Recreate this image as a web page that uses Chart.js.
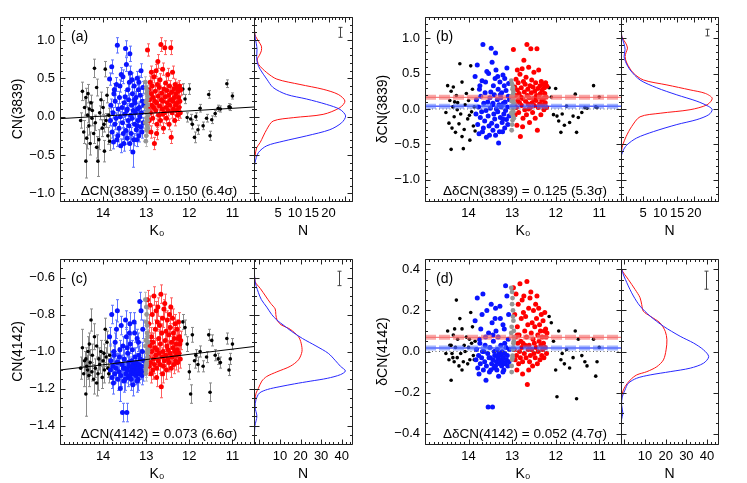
<!DOCTYPE html>
<html><head><meta charset="utf-8">
<script src="https://cdn.jsdelivr.net/npm/chart.js@4.4.1/dist/chart.umd.min.js"></script>
<style>
body{margin:0;background:#fff}
#wrap{position:relative;width:747px;height:483px}
#wrap canvas{position:absolute;left:0;top:0}
</style></head>
<body><div id="wrap">
<canvas id="sa" width="747" height="483"></canvas>
<canvas id="ha" width="747" height="483"></canvas>
<canvas id="sb" width="747" height="483"></canvas>
<canvas id="hb" width="747" height="483"></canvas>
<canvas id="sc" width="747" height="483"></canvas>
<canvas id="hc" width="747" height="483"></canvas>
<canvas id="sd" width="747" height="483"></canvas>
<canvas id="hd" width="747" height="483"></canvas>
</div>
<script>
// ---- star data: [K0, CN3839, err3839, dCN3839, CN4142, err4142, dCN4142]
const blackStars = [
[14.52,-0.05,0.10,-0.05,-1.09,0.06,-0.01],[14.48,0.33,0.12,0.33,-0.98,0.10,0.10],[14.45,-0.20,0.15,-0.20,-1.12,0.07,-0.04],
[14.43,0.12,0.10,0.12,-1.05,0.05,0.03],[14.40,-0.58,0.22,-0.57,-1.23,0.12,-0.14],[14.38,-0.28,0.14,-0.27,-1.08,0.06,-0.01],
[14.36,0.02,0.10,0.03,-1.10,0.05,-0.03],[14.35,0.30,0.12,0.31,-1.00,0.08,0.08],[14.33,-0.12,0.12,-0.11,-1.13,0.06,-0.05],
[14.30,-0.35,0.15,-0.33,-1.06,0.07,0.02],[14.28,0.18,0.10,0.19,-0.83,0.06,0.25],[14.26,-0.02,0.10,-0.01,-1.11,0.05,-0.03],
[14.25,0.08,0.11,0.09,-1.02,0.06,0.06],[14.22,-0.22,0.13,-0.21,-1.15,0.08,-0.07],[14.20,0.63,0.12,0.64,-0.92,0.07,0.16],
[14.18,-0.08,0.10,-0.07,-1.09,0.05,-0.01],[14.15,0.38,0.11,0.38,-0.97,0.06,0.11],[14.12,-0.58,0.20,-0.56,-1.12,0.09,-0.05],
[14.10,-0.30,0.13,-0.29,-1.04,0.06,0.03],[14.08,0.05,0.09,0.06,-1.07,0.05,0.00],[14.05,0.22,0.10,0.22,-1.00,0.06,0.07],
[14.02,-0.15,0.11,-0.14,-1.14,0.06,-0.06],[14.00,0.12,0.09,0.12,-1.05,0.05,0.02],[13.97,-0.45,0.14,-0.44,-1.10,0.07,-0.04],
[13.95,0.62,0.10,0.61,-0.88,0.06,0.19],[13.93,-0.05,0.09,-0.04,-1.03,0.05,0.04],[13.91,0.28,0.10,0.28,-0.95,0.06,0.12],
[13.89,-0.25,0.11,-0.24,-1.09,0.05,-0.02],[13.87,0.02,0.09,0.03,-1.12,0.05,-0.04],[13.85,-0.32,0.12,-0.31,-1.02,0.06,0.05],
[14.40,0.25,0.12,0.25,-1.04,0.06,0.03],[14.15,-0.40,0.14,-0.39,-1.17,0.07,-0.09],[14.32,0.10,0.10,0.10,-0.96,0.06,0.11],
[13.98,-0.10,0.10,-0.09,-1.01,0.05,0.06],
[12.15,0.36,0.07,0.30,-0.84,0.04,0.17],[12.10,0.23,0.06,0.17,-0.87,0.04,0.14],[12.05,-0.01,0.06,-0.08,-0.96,0.04,0.05],
[12.00,0.36,0.07,0.29,-1.11,0.04,-0.09],[11.97,-0.03,0.06,-0.10,-1.23,0.05,-0.22],[11.93,-0.10,0.06,-0.17,-0.91,0.04,0.10],
[11.88,-0.27,0.07,-0.33,-1.05,0.04,-0.04],[11.85,0.00,0.05,-0.07,-1.02,0.03,-0.01],[11.80,-0.17,0.06,-0.23,-1.07,0.04,-0.06],
[11.75,0.11,0.05,0.04,-1.00,0.03,0.01],[11.68,-0.12,0.05,-0.19,-1.08,0.03,-0.08],[11.55,0.29,0.05,0.21,-0.91,0.03,0.10],
[11.52,-0.25,0.06,-0.33,-1.22,0.05,-0.23],[11.48,-0.04,0.05,-0.12,-0.94,0.03,0.06],[11.40,0.04,0.04,-0.05,-1.02,0.03,-0.02],
[11.33,0.11,0.04,0.02,-1.04,0.03,-0.05],[11.28,0.10,0.04,0.01,-1.06,0.03,-0.07],[11.13,0.43,0.05,0.33,-0.93,0.03,0.06],
[11.08,0.13,0.04,0.03,-1.10,0.03,-0.12],[11.05,0.12,0.04,0.02,-1.04,0.03,-0.05],[11.00,0.27,0.04,0.17,-0.96,0.03,0.02],
[11.60,-0.02,0.05,-0.10,-1.03,0.03,-0.03]
];
const blueStars = [
[13.85,0.49,0.08,0.46,-0.92,0.05,0.15],[13.83,-0.05,0.07,-0.07,-1.10,0.05,-0.04],[13.82,0.15,0.08,0.13,-1.05,0.05,0.01],
[13.80,0.65,0.09,0.62,-0.80,0.05,0.26],[13.79,-0.20,0.08,-0.22,-1.14,0.06,-0.08],[13.77,0.05,0.07,0.03,-1.08,0.05,-0.02],
[13.76,-0.33,0.09,-0.35,-1.17,0.06,-0.11],[13.75,0.30,0.08,0.28,-1.00,0.05,0.06],[13.73,-0.10,0.07,-0.12,-1.12,0.05,-0.06],
[13.72,0.20,0.08,0.18,-0.95,0.05,0.11],[13.70,-0.02,0.07,-0.04,-1.09,0.05,-0.03],[13.69,0.42,0.09,0.40,-0.88,0.05,0.18],
[13.67,0.93,0.10,0.91,-0.78,0.06,0.28],[13.66,-0.25,0.08,-0.27,-1.15,0.06,-0.09],[13.65,0.10,0.07,0.08,-1.06,0.05,0.00],
[13.63,-0.15,0.08,-0.17,-1.11,0.05,-0.05],[13.62,0.25,0.08,0.23,-1.03,0.05,0.03],[13.60,0.00,0.07,-0.02,-1.20,0.07,-0.14],
[13.59,-0.38,0.09,-0.40,-1.13,0.06,-0.07],[13.58,0.55,0.09,0.53,-0.86,0.05,0.20],[13.56,0.12,0.07,0.10,-1.07,0.05,-0.01],
[13.55,-0.08,0.07,-0.10,-1.33,0.05,-0.27],[13.54,0.52,0.09,0.50,-0.97,0.05,0.09],[13.52,-0.35,0.10,-0.37,-1.16,0.06,-0.10],
[13.51,0.18,0.08,0.16,-1.04,0.05,0.02],[13.50,0.03,0.07,0.01,-1.09,0.05,-0.03],[13.48,0.89,0.10,0.86,-0.83,0.05,0.23],
[13.47,-0.18,0.08,-0.20,-1.12,0.05,-0.06],[13.46,0.68,0.09,0.66,-0.92,0.05,0.14],[13.45,0.08,0.07,0.06,-1.33,0.05,-0.27],
[13.44,-0.28,0.08,-0.30,-1.10,0.05,-0.04],[13.43,0.35,0.08,0.33,-1.01,0.05,0.05],[13.42,-0.05,0.07,-0.07,-1.14,0.05,-0.08],
[13.41,0.22,0.08,0.20,-1.06,0.05,0.00],[13.40,-0.12,0.07,-0.14,-1.08,0.05,-0.02],[13.39,0.45,0.09,0.43,-0.90,0.05,0.16],
[13.38,0.82,0.10,0.79,-0.85,0.06,0.21],[13.37,0.57,0.09,0.55,-0.96,0.05,0.10],[13.36,0.02,0.07,0.00,-1.11,0.05,-0.05],
[13.35,-0.22,0.08,-0.24,-1.15,0.06,-0.09],[13.34,0.15,0.07,0.13,-1.05,0.05,0.01],[13.33,-0.02,0.07,-0.04,-1.09,0.05,-0.03],
[13.32,0.30,0.08,0.28,-0.99,0.05,0.07],[13.31,-0.46,0.20,-0.48,-1.18,0.06,-0.12],[13.30,0.08,0.07,0.06,-1.07,0.05,-0.01],
[13.29,-0.30,0.08,-0.32,-1.12,0.05,-0.06],[13.28,0.40,0.08,0.38,-0.84,0.05,0.22],[13.27,-0.10,0.07,-0.12,-1.10,0.05,-0.04],
[13.26,0.18,0.08,0.16,-1.03,0.05,0.03],[13.25,0.05,0.07,0.03,-1.08,0.05,-0.02],[13.24,0.25,0.08,0.23,-1.13,0.05,-0.07],
[13.23,-0.17,0.07,-0.19,-1.06,0.05,0.00],[13.22,-0.30,0.09,-0.32,-1.11,0.05,-0.05],[13.21,0.50,0.09,0.48,-0.93,0.05,0.13],
[13.20,0.10,0.07,0.08,-1.09,0.05,-0.03],[13.19,-0.05,0.07,-0.07,-1.15,0.06,-0.09],[13.18,0.35,0.08,0.33,-0.95,0.05,0.11],
[13.17,-0.25,0.08,-0.27,-1.07,0.05,-0.01],[13.16,0.12,0.07,0.10,-1.12,0.05,-0.06],[13.15,0.00,0.07,-0.02,-0.73,0.05,0.32],
[13.14,0.28,0.08,0.26,-1.04,0.05,0.02],[13.13,-0.13,0.07,-0.15,-1.10,0.05,-0.04],[13.12,0.60,0.09,0.58,-0.78,0.05,0.27],
[13.11,0.05,0.07,0.03,-1.08,0.05,-0.02],[13.10,-0.20,0.08,-0.22,-1.13,0.05,-0.07],[13.09,0.20,0.08,0.18,-1.00,0.05,0.06],
[13.08,0.38,0.08,0.36,-0.88,0.05,0.18],[13.07,-0.08,0.07,-0.10,-1.11,0.05,-0.05],[13.06,0.15,0.07,0.13,-1.05,0.05,0.01],
[13.74,0.35,0.08,0.33,-1.02,0.05,0.04],[13.68,-0.30,0.09,-0.32,-1.06,0.05,0.00],[13.61,0.40,0.08,0.38,-0.99,0.05,0.07],
[13.53,-0.22,0.08,-0.24,-1.09,0.05,-0.03],[13.49,0.26,0.08,0.24,-1.15,0.06,-0.09],[13.44,0.10,0.07,0.08,-0.98,0.05,0.08],
[13.38,-0.35,0.09,-0.37,-1.13,0.05,-0.07],[13.33,0.48,0.09,0.46,-1.08,0.05,-0.02],[13.27,0.22,0.08,0.20,-0.90,0.05,0.16],
[13.21,-0.12,0.07,-0.14,-1.16,0.06,-0.10],[13.17,0.45,0.08,0.43,-1.02,0.05,0.04]
];
const grayStars = [
[13.02,0.45,0.07,0.40,-0.72,0.04,0.31],[13.00,0.38,0.07,0.35,-0.76,0.04,0.29],[12.99,0.30,0.07,0.28,-0.80,0.04,0.26],
[12.98,0.22,0.07,0.20,-0.86,0.04,0.20],[12.97,0.15,0.07,0.14,-0.92,0.04,0.15],[12.96,0.08,0.07,0.08,-0.95,0.04,0.10],
[12.96,0.02,0.07,0.02,-0.99,0.04,0.07],[12.97,-0.05,0.07,-0.04,-1.01,0.04,0.04],[12.98,-0.12,0.07,-0.10,-1.04,0.04,0.01],
[12.99,-0.18,0.07,-0.16,-1.06,0.04,-0.02],[13.00,-0.25,0.07,-0.22,-1.08,0.04,-0.04],[13.01,-0.32,0.07,-0.30,-1.10,0.04,-0.07],
[13.01,0.12,0.07,0.11,-1.12,0.04,-0.10],[12.98,0.34,0.07,0.30,-0.90,0.04,0.17],[13.02,-0.08,0.07,-0.06,-0.97,0.04,0.09],
[12.97,0.26,0.07,0.24,-1.03,0.04,0.02],[13.00,0.05,0.07,0.04,-0.84,0.04,0.23],[12.99,-0.02,0.07,-0.01,-1.07,0.04,-0.03],
[13.01,0.19,0.07,0.18,-0.94,0.04,0.12],[12.96,-0.15,0.07,-0.13,-1.00,0.04,0.05]
];
const redStars = [
[12.97,0.87,0.08,0.84,-0.72,0.05,0.31],[12.95,0.10,0.07,0.07,-1.03,0.05,0.01],[12.94,0.35,0.08,0.31,-0.85,0.05,0.18],
[12.93,-0.05,0.07,-0.08,-1.08,0.05,-0.04],[12.92,0.22,0.07,0.19,-0.97,0.05,0.07],[12.91,0.45,0.08,0.42,-0.75,0.05,0.28],
[12.90,0.05,0.07,0.02,-1.06,0.05,-0.02],[12.89,-0.20,0.08,-0.23,-1.12,0.05,-0.09],[12.88,0.30,0.07,0.27,-0.92,0.05,0.12],
[12.87,0.15,0.07,0.12,-1.00,0.05,0.04],[12.86,0.40,0.08,0.37,-0.80,0.05,0.23],[12.85,-0.02,0.07,-0.05,-1.10,0.05,-0.06],
[12.84,0.25,0.07,0.22,-0.95,0.05,0.08],[12.83,0.12,0.07,0.09,-1.04,0.05,0.00],[12.82,0.52,0.08,0.49,-0.70,0.05,0.33],
[12.81,-0.35,0.08,-0.39,-1.07,0.05,-0.03],[12.80,0.20,0.07,0.17,-0.98,0.05,0.05],[12.79,0.33,0.07,0.30,-0.88,0.05,0.16],
[12.78,0.08,0.07,0.05,-1.02,0.05,0.02],[12.77,0.60,0.08,0.57,-0.78,0.05,0.25],[12.76,0.18,0.07,0.15,-1.09,0.05,-0.05],
[12.75,-0.10,0.07,-0.13,-0.99,0.05,0.04],[12.74,0.42,0.08,0.39,-0.84,0.05,0.19],[12.73,0.72,0.09,0.69,-0.76,0.05,0.27],
[12.72,0.27,0.07,0.24,-1.05,0.05,-0.01],[12.71,0.02,0.07,-0.01,-0.93,0.05,0.10],[12.70,0.38,0.07,0.35,-1.01,0.05,0.03],
[12.69,0.14,0.07,0.11,-0.86,0.05,0.17],[12.68,0.48,0.08,0.45,-1.07,0.05,-0.03],[12.67,-0.05,0.07,-0.08,-0.96,0.05,0.07],
[12.66,0.94,0.09,0.91,-0.69,0.05,0.34],[12.65,0.22,0.07,0.19,-1.19,0.06,-0.16],[12.64,0.31,0.07,0.28,-0.90,0.05,0.13],
[12.63,0.10,0.07,0.07,-1.03,0.05,0.01],[12.62,0.62,0.08,0.59,-0.82,0.05,0.21],[12.61,0.20,0.07,0.16,-1.00,0.05,0.03],
[12.60,-0.15,0.07,-0.19,-1.08,0.05,-0.05],[12.59,0.36,0.07,0.33,-0.77,0.05,0.26],[12.58,0.05,0.07,0.02,-1.05,0.05,-0.02],
[12.57,0.90,0.09,0.85,-0.74,0.05,0.29],[12.56,0.26,0.07,0.23,-0.94,0.05,0.09],[12.55,0.44,0.08,0.41,-1.02,0.05,0.01],
[12.54,0.12,0.07,0.09,-0.89,0.05,0.14],[12.53,-0.02,0.07,-0.05,-1.10,0.05,-0.07],[12.52,0.34,0.07,0.31,-0.97,0.05,0.06],
[12.51,0.18,0.07,0.15,-0.83,0.05,0.20],[12.50,0.55,0.08,0.52,-1.04,0.05,-0.01],[12.49,0.08,0.07,0.05,-0.99,0.05,0.04],
[12.48,0.28,0.07,0.25,-0.91,0.05,0.12],[12.47,-0.10,0.07,-0.13,-1.06,0.05,-0.03],[12.46,0.40,0.07,0.37,-0.80,0.05,0.23],
[12.45,0.15,0.07,0.12,-1.01,0.05,0.02],[12.44,0.22,0.07,0.19,-0.87,0.05,0.16],[12.43,0.90,0.09,0.85,-0.76,0.05,0.27],
[12.42,-0.27,0.08,-0.30,-1.09,0.05,-0.06],[12.41,0.32,0.07,0.29,-0.95,0.05,0.08],[12.40,0.05,0.07,0.02,-1.03,0.05,0.00],
[12.39,0.58,0.08,0.55,-0.82,0.05,0.21],[12.38,0.20,0.07,0.17,-0.98,0.05,0.05],[12.37,0.10,0.07,0.07,-0.90,0.05,0.13],
[12.36,0.36,0.07,0.33,-1.07,0.05,-0.04],[12.35,0.25,0.07,0.22,-0.93,0.05,0.10],[12.34,-0.05,0.07,-0.08,-1.00,0.05,0.03],
[12.33,0.42,0.07,0.39,-0.85,0.05,0.18],[12.32,0.15,0.07,0.12,-1.05,0.05,-0.02],[12.31,0.30,0.07,0.27,-0.96,0.05,0.07],
[12.30,0.08,0.07,0.05,-1.02,0.05,0.01],[12.29,0.38,0.07,0.35,-0.88,0.05,0.15],[12.28,0.18,0.07,0.15,-0.99,0.05,0.04],
[12.27,0.02,0.07,-0.01,-1.06,0.05,-0.03],[12.26,0.33,0.07,0.30,-0.93,0.05,0.10],[12.25,0.25,0.07,0.22,-0.84,0.05,0.19],
[12.24,0.12,0.07,0.09,-1.01,0.05,0.02],[12.23,0.40,0.07,0.37,-0.92,0.05,0.11],[12.22,0.20,0.07,0.17,-0.96,0.05,0.07],
[12.21,0.05,0.07,0.02,-1.04,0.05,-0.01],[12.20,0.35,0.07,0.32,-0.94,0.05,0.09],[12.88,0.58,0.08,0.55,-0.95,0.05,0.08],
[12.76,-0.22,0.08,-0.25,-1.14,0.05,-0.11],[12.62,0.03,0.07,0.00,-1.12,0.05,-0.09]
];
const COL = {K0:0, CN3839:1, E3839:2, D3839:3, CN4142:4, E4142:5, D4142:6};

// ---- axes / ticks
const k0Range = [15, 10.5];
const k0Ticks = [14, 13, 12, 11];
const yTicks3839 = [-1.0, -0.5, 0.0, 0.5, 1.0];
const yTicks4142 = [-1.4, -1.2, -1.0, -0.8, -0.6];
const yTicksD4142 = [-0.4, -0.2, 0.0, 0.2, 0.4];
const nTicks3839 = [5, 10, 15, 20];
const nTicks4142 = [10, 20, 30, 40];

// ---- fits and means
const fitCN3839 = [[15, -0.026], [10.5, 0.126]];
const fitCN4142 = [[15, -1.100], [10.5, -0.973]];
const meanD3839 = [0.165, 0.040];   // [CN-strong (red), CN-weak (blue)]
const meanD4142 = [0.069, 0.017];

// ---- smoothed distributions: [value, N]
const kdeBlueA = [[1.30,-2.2],[1.08,-2.0],[0.95,-1.5],[0.88,-1.3],[0.78,-1.4],[0.70,-1.2],[0.62,-0.4],[0.49,1.6],[0.38,3.5],[0.29,7.5],[0.23,13.5],[0.16,19.4],[0.095,23.4],[0.01,25.1],[-0.08,23.9],[-0.17,20.4],[-0.25,13.5],[-0.32,6.5],[-0.38,1.6],[-0.47,-0.9],[-0.60,-1.9],[-0.70,-2.2],[-1.10,-2.2]];
const kdeRedA = [[1.30,-2.2],[1.07,-1.9],[0.98,-0.8],[0.92,0.0],[0.86,0.0],[0.80,-0.6],[0.75,-1.2],[0.68,-0.8],[0.575,1.6],[0.49,4.6],[0.42,11.5],[0.357,18.4],[0.29,22.9],[0.204,24.9],[0.118,23.4],[0.03,18.4],[-0.013,9.5],[-0.057,3.5],[-0.166,1.6],[-0.34,-0.4],[-0.405,-1.4],[-0.515,-1.9],[-0.60,-2.2],[-1.10,-2.2]];
const kdeBlueB = [[1.30,-1.5],[1.03,-1.3],[0.92,-0.6],[0.84,-0.3],[0.74,-0.6],[0.65,0.0],[0.55,1.2],[0.41,4.1],[0.30,9.0],[0.20,14.9],[0.11,20.8],[0.035,24.3],[-0.01,25.3],[-0.08,24.3],[-0.15,20.8],[-0.22,14.9],[-0.32,8.0],[-0.41,3.1],[-0.51,0.2],[-0.60,-1.0],[-0.70,-1.5],[-1.30,-1.5]];
const kdeRedB = [[1.30,-1.5],[1.03,-1.3],[0.92,0.0],[0.86,0.4],[0.80,0.0],[0.74,-0.3],[0.65,0.2],[0.51,2.1],[0.41,5.1],[0.34,12.0],[0.27,18.8],[0.22,23.3],[0.15,25.3],[0.06,23.8],[-0.01,18.8],[-0.06,10.0],[-0.11,4.1],[-0.25,1.6],[-0.39,0.0],[-0.51,-1.0],[-0.58,-1.3],[-0.70,-1.5],[-1.30,-1.5]];
const kdeBlueC = [[-0.50,-2.6],[-0.62,-2.1],[-0.68,-0.5],[-0.72,1.0],[-0.76,3.6],[-0.80,6.0],[-0.83,8.5],[-0.86,12.0],[-0.89,15.5],[-0.93,21.0],[-0.97,27.5],[-1.01,33.5],[-1.05,37.0],[-1.08,39.4],[-1.105,41.8],[-1.125,39.4],[-1.145,33.0],[-1.16,25.0],[-1.175,17.0],[-1.19,10.0],[-1.205,4.0],[-1.225,0.0],[-1.26,-1.6],[-1.30,-2.1],[-1.35,-1.2],[-1.40,-2.1],[-1.50,-2.6]];
const kdeRedC = [[-0.50,-2.6],[-0.62,-2.1],[-0.66,0.5],[-0.70,3.0],[-0.74,5.5],[-0.77,7.7],[-0.80,8.0],[-0.83,8.6],[-0.855,10.5],[-0.88,15.0],[-0.92,19.0],[-0.955,20.3],[-1.0,20.7],[-1.045,19.0],[-1.08,15.0],[-1.11,8.5],[-1.135,3.6],[-1.16,1.2],[-1.20,-0.5],[-1.225,-1.6],[-1.26,-2.1],[-1.30,-2.6],[-1.50,-2.6]];
const kdeBlueD = [[0.45,-1.6],[0.40,-1.3],[0.335,1.2],[0.27,4.4],[0.221,7.6],[0.172,12.5],[0.123,18.9],[0.074,27.0],[0.041,33.5],[0.008,38.3],[-0.025,40.8],[-0.057,38.3],[-0.081,31.9],[-0.098,22.2],[-0.114,12.5],[-0.13,6.0],[-0.155,1.9],[-0.188,0.3],[-0.221,-1.0],[-0.26,-1.3],[-0.30,-0.7],[-0.33,-1.3],[-0.45,-1.6]];
const kdeRedD = [[0.45,-1.6],[0.40,-1.3],[0.351,1.9],[0.302,5.2],[0.262,7.6],[0.229,8.4],[0.196,9.2],[0.172,12.5],[0.139,17.3],[0.098,19.8],[0.057,20.6],[0.008,20.2],[-0.041,18.9],[-0.074,15.7],[-0.098,10.9],[-0.114,6.0],[-0.139,2.8],[-0.172,0.3],[-0.204,-1.0],[-0.25,-1.6],[-0.45,-1.6]];

// typical error bar: [N, value, err]
const typErrA = [23.5, 1.10, 0.065];
const typErrB = [23.8, 1.08, 0.047];
const typErrC = [38.9, -0.605, 0.039];
const typErrD = [39.7, 0.347, 0.044];

const notes = ['ΔCN(3839) = 0.150 (6.4σ)', 'ΔδCN(3839) = 0.125 (5.3σ)', 'ΔCN(4142) = 0.073 (6.6σ)', 'ΔδCN(4142) = 0.052 (4.7σ)'];
const tags = ['(a)', '(b)', '(c)', '(d)'];
const yTitles = ['CN(3839)', 'δCN(3839)', 'CN(4142)', 'δCN(4142)'];

// ---- styling
const FONT = '"Liberation Sans", Arial, Helvetica, sans-serif';
Chart.defaults.font.family = FONT;
Chart.defaults.color = '#000';

const GROUPS = [
  {rows: blackStars, color: '#000000', err: '#8a8a8a', r: 1.8, order: 5},
  {rows: blueStars, color: 'rgb(10,20,255)', err: 'rgb(95,115,255)', r: 2.5, order: 4},
  {rows: redStars, color: 'rgb(255,0,0)', err: 'rgb(255,95,95)', r: 2.5, order: 3},
  {rows: grayStars, color: 'rgb(150,150,150)', err: 'rgb(185,185,185)', r: 2.4, order: 2}
];

const fmt = v => (v < -1e-9 ? '\u2212' : '') + Math.abs(v).toFixed(1);

const errPlugin = {
  id: 'errbars',
  beforeDatasetsDraw(chart) {
    const {ctx, chartArea: a} = chart; const ys = chart.scales.y;
    ctx.save(); ctx.beginPath(); ctx.rect(a.left, a.top, a.right - a.left, a.bottom - a.top); ctx.clip();
    ctx.lineWidth = 1;
    chart.data.datasets.forEach((ds, i) => {
      if (!ds.errColor) return;
      const meta = chart.getDatasetMeta(i);
      ctx.strokeStyle = ds.errColor; ctx.beginPath();
      ds.data.forEach((d, j) => {
        if (!d.e) return;
        const x = Math.round(meta.data[j].x) + 0.5;
        const y1 = ys.getPixelForValue(d.y - d.e), y2 = ys.getPixelForValue(d.y + d.e);
        ctx.moveTo(x, y1); ctx.lineTo(x, y2);
        ctx.moveTo(x - 1.5, y1); ctx.lineTo(x + 1.5, y1);
        ctx.moveTo(x - 1.5, y2); ctx.lineTo(x + 1.5, y2);
      });
      ctx.stroke();
    });
    ctx.restore();
  }
};

const boxPlugin = {
  id: 'box',
  afterDatasetsDraw(chart, args, o) {
    const {ctx, chartArea: a} = chart; const xs = chart.scales.x, ys = chart.scales.y;
    const L = Math.round(a.left) + 0.5, R = Math.round(a.right) + 0.5, T = Math.round(a.top) + 0.5, B = Math.round(a.bottom) + 0.5;
    ctx.save(); ctx.strokeStyle = '#222'; ctx.lineWidth = 1; ctx.beginPath();
    const seg = (x1, y1, x2, y2) => { ctx.moveTo(x1, y1); ctx.lineTo(x2, y2); };
    seg(L, T, R, T); seg(R, T, R, B); seg(R, B, L, B); seg(L, B, L, T);
    let lo = Math.min(xs.min, xs.max), hi = Math.max(xs.min, xs.max);
    for (let i = Math.ceil(lo / o.xStep - 1e-6); i * o.xStep <= hi + 1e-9; i++) {
      const p = Math.round(xs.getPixelForValue(i * o.xStep)) + 0.5;
      const len = (i % o.xEvery === 0) ? 5 : 2.5;
      seg(p, B, p, B - len); seg(p, T, p, T + len);
    }
    lo = ys.min; hi = ys.max;
    for (let i = Math.ceil(lo / o.yStep - 1e-6); i * o.yStep <= hi + 1e-9; i++) {
      const p = Math.round(ys.getPixelForValue(i * o.yStep)) + 0.5;
      const len = (i % o.yEvery === 0) ? 5 : 2.5;
      seg(L, p, L + len, p); seg(R, p, R - len, p);
    }
    ctx.stroke();
    if (o.typErr) {
      const [n, v, e] = o.typErr;
      const x = Math.round(xs.getPixelForValue(n)) + 0.5;
      const y1 = ys.getPixelForValue(v - e), y2 = ys.getPixelForValue(v + e);
      ctx.strokeStyle = '#444'; ctx.beginPath();
      seg(x, y1, x, y2); seg(x - 2, y1, x + 2, y1); seg(x - 2, y2, x + 2, y2);
      ctx.stroke();
    }
    ctx.restore();
  }
};

const textPlugin = {
  id: 'texts',
  afterDraw(chart, args, o) {
    if (!o.tag) return;
    const {ctx, chartArea: a} = chart;
    ctx.save(); ctx.fillStyle = '#000'; ctx.textBaseline = 'middle';
    ctx.font = '14px ' + FONT; ctx.textAlign = 'left';
    ctx.fillText(o.tag, a.left + 11, a.top + 20);
    ctx.font = '13.5px ' + FONT; ctx.textAlign = 'center';
    ctx.fillText(o.note, (a.left + a.right) / 2 + 2, a.bottom - 10);
    ctx.restore();
  }
};

function lineDS(pts, color, width, dash, order) {
  return {data: pts.map(([x, y]) => ({x, y})), showLine: true, borderColor: color, borderWidth: width,
          borderDash: dash || [], pointRadius: 0, pointHoverRadius: 0, order};
}

function xAxisCommon(ticks, title) {
  return {
    type: 'linear', grid: {display: false, drawTicks: false}, border: {display: false},
    afterBuildTicks: s => { s.ticks = ticks.map(v => ({value: v})); },
    afterFit: s => { s.height = 39; },
    ticks: {autoSkip: false, maxRotation: 0, padding: 5, font: {size: 13}, color: '#000', callback: v => String(v)},
    title: {display: true, text: title, font: {size: 14}, color: '#000', padding: {top: 0, bottom: 0}}
  };
}

function makeScatter(id, p) {
  const datasets = GROUPS.map(g => ({
    data: g.rows.map(r => ({x: r[COL.K0], y: r[p.col], e: p.ecol == null ? 0 : r[p.ecol]})),
    backgroundColor: g.color, borderWidth: 0, pointRadius: g.r, pointHoverRadius: g.r,
    errColor: p.ecol == null ? null : g.err, order: g.order
  }));
  if (p.fit) datasets.push(lineDS(p.fit, '#000', 1, null, 1));
  if (p.means) {
    datasets.push(lineDS([[k0Range[0], 0], [k0Range[1], 0]], '#666', 1, [1, 2.5], 1));
    datasets.push(lineDS([[k0Range[0], p.means[0]], [k0Range[1], p.means[0]]], 'rgba(245,110,110,0.6)', 5, [11, 3], 0));
    datasets.push(lineDS([[k0Range[0], p.means[0]], [k0Range[1], p.means[0]]], 'rgba(240,60,60,0.8)', 1, null, 0));
    datasets.push(lineDS([[k0Range[0], p.means[1]], [k0Range[1], p.means[1]]], 'rgba(90,120,255,0.55)', 5, [11, 3], 0));
    datasets.push(lineDS([[k0Range[0], p.means[1]], [k0Range[1], p.means[1]]], 'rgb(0,20,255)', 1, null, 0));
  }
  const x = xAxisCommon(k0Ticks, 'K\u2080');
  x.reverse = true; x.min = k0Range[1]; x.max = k0Range[0];
  new Chart(document.getElementById(id), {
    type: 'scatter', data: {datasets},
    options: {
      responsive: false, animation: false, events: [],
      layout: {padding: p.pad},
      plugins: {legend: {display: false}, tooltip: {enabled: false},
        box: {xStep: 0.1, xEvery: 10, yStep: p.yStep, yEvery: p.yEvery},
        texts: {tag: p.tag, note: p.note}},
      scales: {
        x,
        y: {type: 'linear', min: p.yMin, max: p.yMax, grid: {display: false, drawTicks: false}, border: {display: false},
            afterBuildTicks: s => { s.ticks = p.yTicks.map(v => ({value: v})); },
            afterFit: s => { s.width = 60; },
            ticks: {autoSkip: false, padding: 5, font: {size: 13}, color: '#000', callback: v => fmt(v)},
            title: {display: true, text: p.yTitle, font: {size: 14}, color: '#000', padding: {top: 10, bottom: 0}}}
      }
    },
    plugins: [errPlugin, boxPlugin, textPlugin]
  });
}

function makeHist(id, p) {
  const datasets = [
    Object.assign(lineDS(p.red.map(([v, n]) => [n, v]), 'rgb(255,20,20)', 1, null, 2), {tension: 0.3}),
    Object.assign(lineDS(p.blue.map(([v, n]) => [n, v]), 'rgb(40,40,255)', 1, null, 1), {tension: 0.3})
  ];
  const x = xAxisCommon(p.nTicks, 'N');
  x.min = p.nMin; x.max = p.nMax;
  new Chart(document.getElementById(id), {
    type: 'scatter', data: {datasets},
    options: {
      responsive: false, animation: false, events: [],
      layout: {padding: p.pad},
      plugins: {legend: {display: false}, tooltip: {enabled: false},
        box: {xStep: p.nStep, xEvery: p.nEvery, yStep: p.yStep, yEvery: p.yEvery, typErr: p.typErr}},
      scales: {
        x,
        y: {type: 'linear', min: p.yMin, max: p.yMax, display: false}
      }
    },
    plugins: [boxPlugin]
  });
}

// ---- panel (a)
makeScatter('sa', {col: COL.CN3839, ecol: COL.E3839, yMin: -1.1, yMax: 1.3, yTicks: yTicks3839, yStep: 0.1, yEvery: 5,
  yTitle: yTitles[0], tag: tags[0], note: notes[0], fit: fitCN3839, pad: {left: 0, right: 493, top: 17, bottom: 243}});
makeHist('ha', {red: kdeRedA, blue: kdeBlueA, nMin: -2.2, nMax: 27, nTicks: nTicks3839, nStep: 1, nEvery: 5,
  yMin: -1.1, yMax: 1.3, yStep: 0.1, yEvery: 5, typErr: typErrA, pad: {left: 254, right: 395, top: 17, bottom: 243}});
// ---- panel (b)
makeScatter('sb', {col: COL.D3839, ecol: null, yMin: -1.3, yMax: 1.3, yTicks: yTicks3839, yStep: 0.1, yEvery: 5,
  yTitle: yTitles[1], tag: tags[1], note: notes[1], means: meanD3839, pad: {left: 365, right: 126, top: 17, bottom: 243}});
makeHist('hb', {red: kdeRedB, blue: kdeBlueB, nMin: -1.5, nMax: 27, nTicks: nTicks3839, nStep: 1, nEvery: 5,
  yMin: -1.3, yMax: 1.3, yStep: 0.1, yEvery: 5, typErr: typErrB, pad: {left: 621, right: 29, top: 17, bottom: 243}});
// ---- panel (c)
makeScatter('sc', {col: COL.CN4142, ecol: COL.E4142, yMin: -1.5, yMax: -0.5, yTicks: yTicks4142, yStep: 0.05, yEvery: 4,
  yTitle: yTitles[2], tag: tags[2], note: notes[2], fit: fitCN4142, pad: {left: 0, right: 493, top: 259, bottom: 0}});
makeHist('hc', {red: kdeRedC, blue: kdeBlueC, nMin: -2.6, nMax: 45, nTicks: nTicks4142, nStep: 2, nEvery: 5,
  yMin: -1.5, yMax: -0.5, yStep: 0.05, yEvery: 4, typErr: typErrC, pad: {left: 254, right: 395, top: 259, bottom: 0}});
// ---- panel (d)
makeScatter('sd', {col: COL.D4142, ecol: null, yMin: -0.45, yMax: 0.45, yTicks: yTicksD4142, yStep: 0.05, yEvery: 4,
  yTitle: yTitles[3], tag: tags[3], note: notes[3], means: meanD4142, pad: {left: 365, right: 126, top: 259, bottom: 0}});
makeHist('hd', {red: kdeRedD, blue: kdeBlueD, nMin: -1.6, nMax: 45.3, nTicks: nTicks4142, nStep: 2, nEvery: 5,
  yMin: -0.45, yMax: 0.45, yStep: 0.05, yEvery: 4, typErr: typErrD, pad: {left: 621, right: 29, top: 259, bottom: 0}});
</script>
</body></html>
